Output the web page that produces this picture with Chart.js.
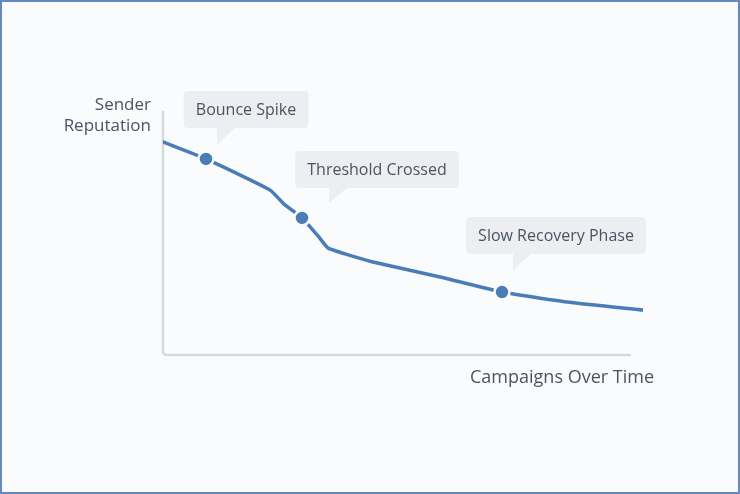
<!DOCTYPE html>
<html>
<head>
<meta charset="utf-8">
<script src="https://cdn.jsdelivr.net/npm/chart.js@4"></script>
<style>
  html, body { margin: 0; padding: 0; background: #fafbfd; }
  #wrap { width: 740px; height: 494px; }
</style>
</head>
<body>
<div id="wrap"><canvas id="c" width="740" height="494"></canvas></div>
<script>
// campaigns (x) vs sender reputation (y, 0-100)
const campaigns  = [0, 4.3, 10.7, 12.1, 13.9, 15.5, 16.5, 18.2, 21.0, 27.7, 33.9, 40.4, 48];
const reputation = [87.7, 80.7, 67.9, 62.1, 56.4, 49.0, 44.0, 41.6, 38.3, 32.1, 25.9, 21.8, 18.5];

// callouts: which point, and its label
const calloutIdx    = [1, 4, 10];
const calloutLabels = ['Bounce Spike', 'Threshold Crossed', 'Slow Recovery Phase'];

const yTitle = ['Sender', 'Reputation'];
const xTitle = 'Campaigns Over Time';

const FONT = "'Open Sans','Noto Sans',sans-serif";
const TXT = '#4b5461';
const LINE = '#4a7db8';

// callout placement relative to point pixel
const CALL = [
  { dx: 40, bottom: -31, tipDx: 11, tipDy: -14 },
  { dx: 75, bottom: -30, tipDx: 27, tipDy: -15 },
  { dx: 54, bottom: -38, tipDx: 11, tipDy: -22 }
];

const decor = {
  id: 'decor',
  beforeDraw(chart) {
    const { ctx, width: w, height: h, chartArea: a } = chart;
    ctx.save();
    ctx.fillStyle = '#fafbfd';
    ctx.fillRect(0, 0, w, h);
    ctx.strokeStyle = '#6289c4';
    ctx.lineWidth = 2;
    ctx.strokeRect(1, 1, w - 2, h - 2);

    // axes with rounded corner
    ctx.strokeStyle = '#d5d9de';
    ctx.lineWidth = 2.5;
    ctx.lineCap = 'round';
    ctx.beginPath();
    ctx.moveTo(a.left, a.top);
    ctx.lineTo(a.left, a.bottom - 4);
    ctx.quadraticCurveTo(a.left, a.bottom, a.left + 4, a.bottom);
    ctx.lineTo(630, a.bottom);
    ctx.stroke();

    ctx.fillStyle = TXT;
    ctx.textAlign = 'right';
    ctx.textBaseline = 'middle';
    ctx.font = `17px ${FONT}`;
    ctx.fillText(yTitle[0], 151, 105);
    ctx.fillText(yTitle[1], 151, 126);
    ctx.font = `18px ${FONT}`;
    ctx.fillText(xTitle, 654, 378);
    ctx.restore();
  },
  afterDatasetsDraw(chart) {
    const { ctx, scales: { x, y } } = chart;
    ctx.save();
    ctx.font = `16px ${FONT}`;
    calloutIdx.forEach((idx, i) => {
      const px = x.getPixelForValue(campaigns[idx]);
      const py = y.getPixelForValue(reputation[idx]);
      const c = CALL[i];
      const tw = ctx.measureText(calloutLabels[i]).width;
      const bw = tw + 24, bh = 37;
      const cx = px + c.dx, bot = py + c.bottom;
      const left = cx - bw / 2, top = bot - bh;
      ctx.fillStyle = '#eceef1';
      ctx.beginPath();
      ctx.roundRect(left, top, bw, bh, 4);
      ctx.fill();
      const tx = px + c.tipDx;
      ctx.beginPath();
      ctx.moveTo(tx, bot - 1);
      ctx.lineTo(tx + 19, bot - 1);
      ctx.lineTo(tx, py + c.tipDy);
      ctx.closePath();
      ctx.fill();
      ctx.fillStyle = TXT;
      ctx.textAlign = 'center';
      ctx.textBaseline = 'middle';
      ctx.fillText(calloutLabels[i], cx, top + bh / 2 + 1);
    });
    ctx.restore();
  }
};

new Chart(document.getElementById('c'), {
  type: 'line',
  data: {
    datasets: [{
      data: campaigns.map((v, i) => ({ x: v, y: reputation[i] })),
      borderColor: LINE,
      borderWidth: 3.5,
      borderCapStyle: 'round',
      borderJoinStyle: 'round',
      tension: 0.15,
      pointRadius: campaigns.map((_, i) => calloutIdx.includes(i) ? 7.5 : 0),
      pointBackgroundColor: LINE,
      pointBorderColor: '#fafbfd',
      pointBorderWidth: 2.5,
      fill: false
    }]
  },
  options: {
    responsive: false,
    animation: false,
    layout: { padding: { left: 163, right: 97, top: 112, bottom: 139 } },
    scales: {
      x: { type: 'linear', min: 0, max: 48, display: false },
      y: { min: 0, max: 100, display: false }
    },
    plugins: { legend: { display: false }, tooltip: { enabled: false } }
  },
  plugins: [decor]
});
</script>
</body>
</html>
